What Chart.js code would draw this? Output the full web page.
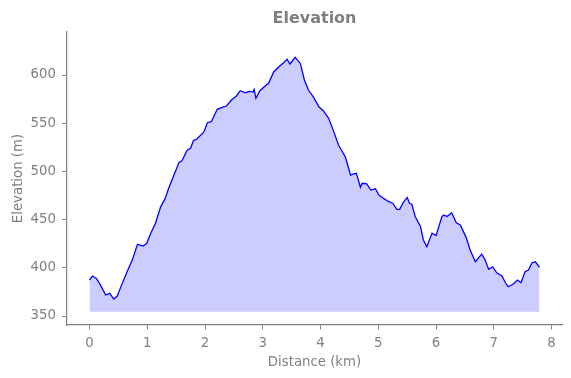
<!DOCTYPE html>
<html>
<head>
<meta charset="utf-8">
<script src="https://cdn.jsdelivr.net/npm/chart.js@4"></script>
<style>
  html, body { margin: 0; padding: 0; background: #fff; }
</style>
</head>
<body>
<canvas id="elevationChart" width="571" height="378"></canvas>
<script>
// distance along the route (km) and elevation (m)
const distanceKm = [
  0.00, 0.05, 0.12, 0.19, 0.28, 0.35, 0.42, 0.48, 0.54, 0.65, 0.74, 0.83, 0.93, 0.99,
  1.06, 1.14, 1.23, 1.31, 1.37, 1.46, 1.55, 1.60, 1.69, 1.75, 1.80, 1.86, 1.98,
  2.04, 2.11, 2.21, 2.30, 2.37, 2.47, 2.54, 2.61, 2.70, 2.77, 2.83, 2.85, 2.88, 2.95,
  3.04, 3.10, 3.19, 3.27, 3.36, 3.42, 3.47, 3.56, 3.65, 3.72, 3.79, 3.88, 3.97,
  4.05, 4.14, 4.23, 4.31, 4.43, 4.52, 4.56, 4.62, 4.69, 4.72, 4.80, 4.87, 4.95,
  5.01, 5.09, 5.18, 5.25, 5.32, 5.37, 5.43, 5.50, 5.54, 5.58, 5.64, 5.73, 5.78, 5.84, 5.93,
  6.00, 6.10, 6.13, 6.19, 6.27, 6.35, 6.42, 6.52, 6.59, 6.68, 6.79, 6.85, 6.91, 6.98,
  7.05, 7.14, 7.20, 7.25, 7.33, 7.41, 7.47, 7.54, 7.60, 7.66, 7.72, 7.79
];
const elevationM = [
  387.3, 391.5, 389.0, 382.0, 371.8, 373.5, 367.6, 370.7, 380.0, 396.0, 408.0, 424.4, 422.6, 425.4,
  435.8, 446.0, 463.0, 472.0, 482.5, 496.0, 509.4, 511.0, 522.0, 524.0, 532.0, 533.6, 541.0,
  550.5, 551.6, 564.4, 566.5, 567.8, 574.8, 578.0, 583.7, 581.6, 583.0, 582.3, 585.0, 575.8, 583.7,
  588.6, 591.4, 603.4, 608.0, 612.8, 616.3, 611.4, 618.4, 612.0, 594.8, 584.4, 576.8, 567.0,
  562.7, 555.0, 541.0, 527.4, 515.0, 496.0, 497.3, 498.0, 483.5, 487.7, 487.0, 480.7, 482.0,
  475.5, 472.0, 468.6, 467.0, 460.6, 460.6, 467.6, 473.0, 467.0, 466.0, 453.0, 443.0, 428.8, 421.9, 436.0,
  433.5, 453.0, 454.8, 453.3, 457.2, 446.8, 444.4, 431.6, 418.5, 406.3, 414.3, 408.0, 398.4, 401.1,
  394.9, 391.5, 384.5, 380.4, 382.9, 387.3, 384.5, 396.0, 397.7, 405.3, 406.3, 400.5
];
const fillBase = 354.5;
const xTicks = [0, 1, 2, 3, 4, 5, 6, 7, 8];
const yTicks = [350, 400, 450, 500, 550, 600];

const gray = "#808080";
const font = "'DejaVu Sans', sans-serif";

const points = distanceKm.map((d, i) => ({ x: d, y: elevationM[i] }));

new Chart(document.getElementById("elevationChart").getContext("2d"), {
  type: "line",
  data: {
    datasets: [
      {
        data: points,
        borderColor: "#0000ff",
        borderWidth: 1.3,
        backgroundColor: "rgba(0, 0, 255, 0.2)",
        fill: { value: fillBase },
        pointRadius: 0,
        tension: 0,
      },
    ],
  },
  options: {
    responsive: false,
    animation: false,
    layout: { padding: { left: 0, right: 9, top: 0, bottom: 0 } },
    plugins: {
      legend: { display: false },
      tooltip: { enabled: false },
      title: {
        display: true,
        text: "Elevation",
        color: gray,
        fullSize: false,
        font: { family: font, size: 16, weight: "bold" },
        padding: { top: 9, bottom: 3.8 },
      },
    },
    scales: {
      x: {
        type: "linear",
        min: -0.39,
        max: 8.18,
        afterFit: (s) => { s.height = 53; },
        afterBuildTicks: (s) => { s.ticks = xTicks.map((v) => ({ value: v })); },
        ticks: { color: gray, font: { family: font, size: 13.3 }, padding: 6, maxRotation: 0 },
        grid: { drawOnChartArea: false, drawTicks: true, tickLength: 4.5, tickColor: gray },
        border: { display: true, color: gray, width: 1.2 },
        title: {
          display: true,
          text: "Distance (km)",
          color: gray,
          font: { family: font, size: 13.3 },
          padding: { top: 0, bottom: 7 },
        },
      },
      y: {
        min: 340.7,
        max: 644.6,
        afterFit: (s) => { s.width = 67; },
        afterBuildTicks: (s) => { s.ticks = yTicks.map((v) => ({ value: v })); },
        ticks: { color: gray, font: { family: font, size: 13.3 }, padding: 6 },
        grid: { drawOnChartArea: false, drawTicks: true, tickLength: 5, tickColor: gray },
        border: { display: true, color: gray, width: 1.2 },
        title: {
          display: true,
          text: "Elevation (m)",
          color: gray,
          font: { family: font, size: 13.3 },
          padding: { top: 11, bottom: 0 },
        },
      },
    },
  },
});
</script>
</body>
</html>
